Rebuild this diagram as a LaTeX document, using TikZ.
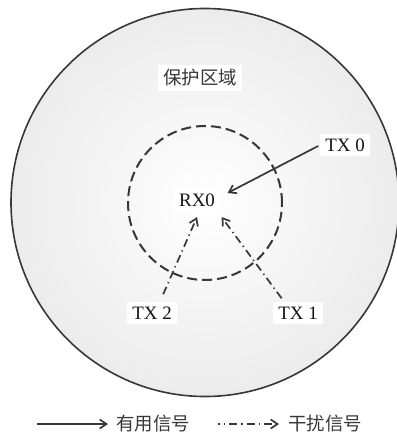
\documentclass[tikz,border=0pt]{standalone}
\usepackage{fontspec}
\setmainfont{Liberation Serif}
\newfontfamily\cjk{Noto Sans CJK SC}
\usetikzlibrary{arrows.meta,positioning,shadings}
\definecolor{zone}{RGB}{236,236,236}
\definecolor{wire}{RGB}{55,55,55}
\definecolor{ink}{RGB}{20,20,20}
\tikzset{
  >={Straight Barb[length=2.4mm,width=3.2mm]},
  lbl/.style={fill=white,inner sep=5bp,text=ink,font=\fontsize{19}{22}\selectfont},
  zh/.style={text=ink!85,font=\cjk\fontsize{18.5}{22}\selectfont},
  wanted/.style={->,line width=1.7bp,draw=wire},
  interf/.style={->,line width=1.7bp,draw=wire,
    dash pattern=on 8bp off 4bp on 1.3bp off 4bp},
  ring/.style={line width=2bp,draw=wire,dash pattern=on 10bp off 5bp},
}
\begin{document}
\begin{tikzpicture}[x=1bp,y=-1bp]
  \useasboundingbox (0,0) rectangle (396,435);
  % protection zone
  \shade[inner color=white,middle color=white!60!zone,outer color=zone] (205,202.5) circle (194bp);
  \draw[line width=1.6bp,draw=wire] (205,202.5) circle (194bp);
  \draw[ring] (205,203) circle (77bp);
  % nodes
  \node[lbl,zh,fill=white] (zone) at (200,78) {保护区域};
  \node[lbl,inner sep=6.5bp] (rx0) at (197,200) {RX0};
  \node[lbl] (tx0) at (345,145) {TX 0};
  \node[lbl] (tx1) at (298,313) {TX 1};
  \node[lbl] (tx2) at (152,313) {TX 2};
  % links
  \draw[wanted,shorten <=2bp] (tx0.west) -- ([xshift=6bp,yshift=7bp]rx0.east);
  \draw[interf,shorten <=8bp] ([xshift=8bp]tx2.north) -- ([yshift=-4bp]rx0.south);
  \draw[interf,shorten <=4bp] ([xshift=-14bp]tx1.north) -- ([yshift=-4bp]rx0.south east);
  % legend
  \coordinate (a1) at (37,424);
  \coordinate (a2) at (108,424);
  \coordinate (b1) at (218,424);
  \coordinate (b2) at (279,424);
  \draw[wanted] (a1) -- (a2);
  \draw[interf,dash phase=6bp] (b1) -- (b2);
  \node[zh,anchor=west] (useful) at (113,424) {有用信号};
  \node[zh,anchor=west] (jam) at (285,424) {干扰信号};
\end{tikzpicture}
\end{document}
